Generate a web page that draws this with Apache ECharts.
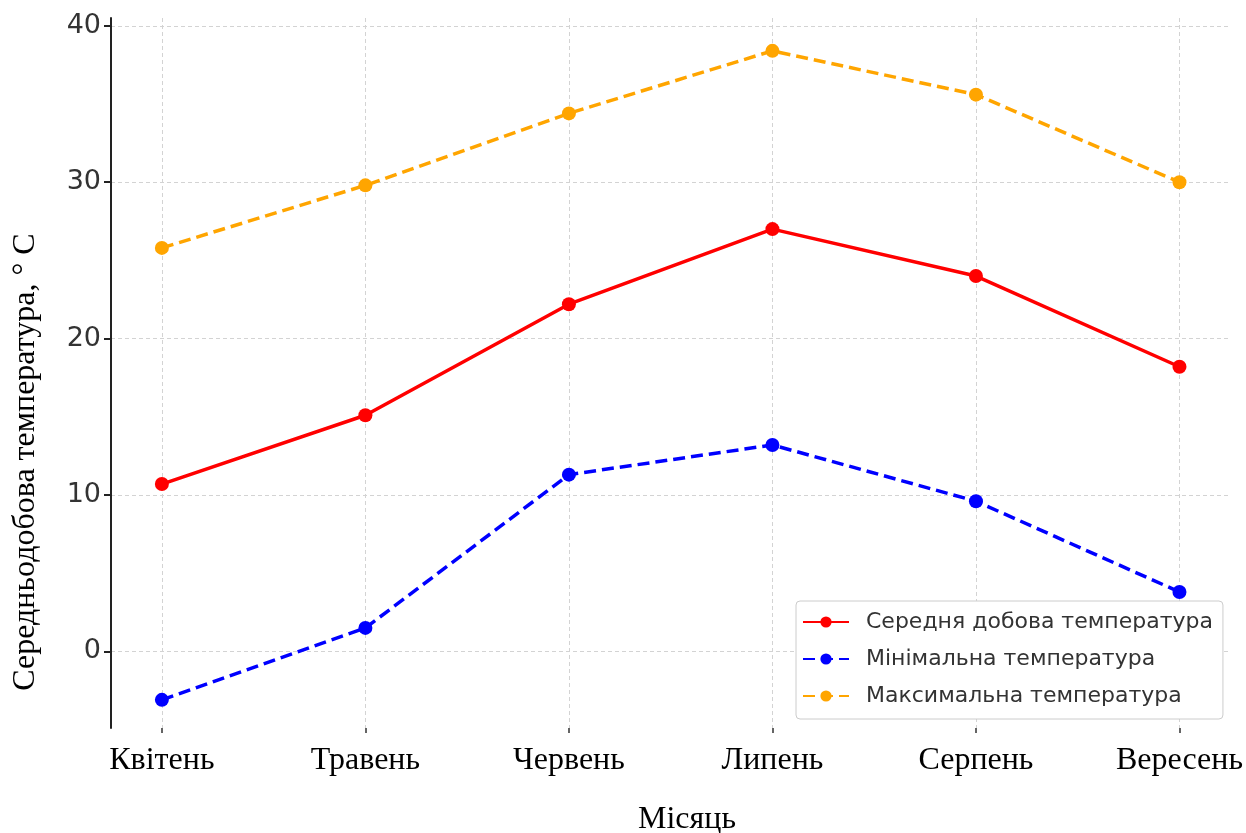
<!DOCTYPE html>
<html>
<head>
<meta charset="utf-8">
<script src="https://cdn.jsdelivr.net/npm/echarts@6/dist/echarts.min.js"></script>
<style>html,body{margin:0;padding:0;background:#fff}#c{width:1246px;height:833px}</style>
</head>
<body>
<div id="c"></div>
<script>
const months = ['Квітень','Травень','Червень','Липень','Серпень','Вересень'];
const avgTemp = [10.7, 15.1, 22.2, 27.0, 24.0, 18.2];
const minTemp = [-3.1, 1.5, 11.3, 13.2, 9.6, 3.8];
const maxTemp = [25.8, 29.8, 34.4, 38.4, 35.6, 30.0];
const yTicks = [0, 10, 20, 30, 40];
const seriesNames = ['Середня добова температура','Мінімальна температура','Максимальна температура'];
const xTitle = 'Місяць';
const yTitle = 'Середньодобова температура, ° C';

const idx = months.map((_, i) => i);
const pts = arr => arr.map((v, i) => [i, v]);
const grid = {color: '#d3d3d3', type: [4, 3], width: 1};

const chart = echarts.init(document.getElementById('c'), null, {renderer: 'canvas'});
chart.setOption({
  animation: false,
  backgroundColor: '#fff',
  grid: {left: 111, right: 15, top: 18, bottom: 105, containLabel: false},
  xAxis: {
    type: 'value', min: -0.25, max: 5.25,
    axisLine: {show: false, onZero: false},
    axisTick: {show: true, customValues: idx, length: 5, lineStyle: {color: '#333', width: 1.5}},
    axisLabel: {customValues: idx, formatter: v => months[Math.round(v)], fontFamily: 'Liberation Serif', fontSize: 32, color: '#000', margin: 17},
    splitLine: {show: true, lineStyle: grid}
  },
  yAxis: {
    type: 'value', min: -4.9, max: 40.5,
    axisLine: {show: true, onZero: false, lineStyle: {color: '#222', width: 2}},
    axisTick: {show: true, customValues: yTicks, length: 7, lineStyle: {color: '#222', width: 2}},
    axisLabel: {customValues: yTicks, fontFamily: 'DejaVu Sans', fontSize: 27, color: '#333', margin: 10},
    splitLine: {show: true, lineStyle: grid}
  },
  legend: {
    orient: 'vertical', left: 796, top: 601,
    backgroundColor: '#fff', borderColor: '#ccc', borderWidth: 1, borderRadius: 4,
    padding: [10, 10, 12, 6], itemGap: 15, itemWidth: 46, itemHeight: 14,
    textStyle: {fontFamily: 'DejaVu Sans', fontSize: 22, color: '#333', padding: [0, 0, 0, 12]},
    data: seriesNames
  },
  graphic: [
    {type: 'text', x: 26, y: 462, rotation: Math.PI / 2,
     style: {text: yTitle, font: '32px "Liberation Serif"', fill: '#000', align: 'center', verticalAlign: 'middle'}},
    {type: 'text', x: 687, y: 820,
     style: {text: xTitle, font: '32px "Liberation Serif"', fill: '#000', align: 'center', verticalAlign: 'middle'}}
  ],
  series: [
    {name: seriesNames[0], type: 'line', data: pts(avgTemp), color: '#ff0000',
     symbol: 'circle', symbolSize: 14, lineStyle: {width: 3.5, type: 'solid'}, z: 3},
    {name: seriesNames[1], type: 'line', data: pts(minTemp), color: '#0000ff',
     symbol: 'circle', symbolSize: 14, lineStyle: {width: 3.5, type: [12, 6]}, z: 3},
    {name: seriesNames[2], type: 'line', data: pts(maxTemp), color: '#ffa500',
     symbol: 'circle', symbolSize: 14, lineStyle: {width: 3.5, type: [12, 6]}, z: 3}
  ]
});
</script>
</body>
</html>
